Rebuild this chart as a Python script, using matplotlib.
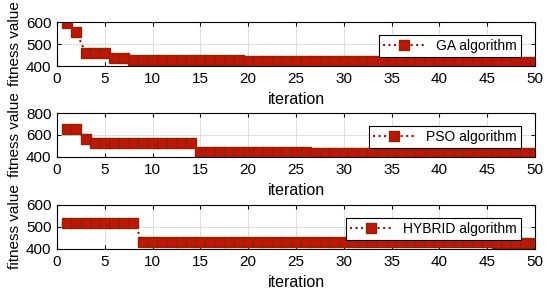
import matplotlib
matplotlib.use("Agg")
import matplotlib.pyplot as plt
import numpy as np

plt.rcParams['font.family'] = ['Liberation Sans', 'DejaVu Sans']

iterations = list(range(1, 51))
ga_values = [595, 555, 460, 460, 460, 436, 436] + [427] * 12 + [424] * 11 + [422] * 15 + [419] * 5
pso_values = [652, 652, 563] + [525] * 11 + [443] * 12 + [440] * 24
hybrid_values = [520] * 8 + [432] * 28 + [430] * 9 + [428] * 5

series = [
    ("GA algorithm", ga_values, (400, 600), [400, 500, 600]),
    ("PSO algorithm", pso_values, (400, 800), [400, 600, 800]),
    ("HYBRID algorithm", hybrid_values, (400, 600), [400, 500, 600]),
]

W, H = 550, 292
fig = plt.figure(figsize=(5.5, 2.92), dpi=100)
tops = [22, 113, 205]
left, right = 57, 535
height = 44

for (label, vals, ylim, yticks), top in zip(series, tops):
    ax = fig.add_axes([left / W, 1 - (top + height) / H, (right - left) / W, height / H])
    ax.plot(iterations, vals, linestyle=':', color='#8B1A00', linewidth=1.5,
            marker='s', markersize=6.5, markerfacecolor='#C0160A',
            markeredgecolor='#8B2500', markeredgewidth=1.0, label=label)
    ax.set_xlim(0, 50)
    ax.set_ylim(*ylim)
    ax.set_xticks(range(0, 51, 5))
    ax.set_yticks(yticks)
    ax.grid(True, color='#DDDDDD', linewidth=0.7)
    ax.tick_params(direction='in', top=True, right=True, labelsize=11, length=3, pad=4)
    ax.set_xlabel('iteration', fontsize=11.5, labelpad=0)
    ax.xaxis.set_label_coords(0.5, -0.6)
    ax.set_ylabel('fitness value', fontsize=11, labelpad=3)
    for sp in ax.spines.values():
        sp.set_linewidth(0.8)
    leg = ax.legend(loc='upper right', fontsize=10, fancybox=False, framealpha=1,
                    edgecolor='black', borderpad=0.3, handlelength=3.0,
                    bbox_to_anchor=(0.985, 0.86))
    leg.get_frame().set_linewidth(0.8)

fig.savefig('out.png', dpi=100)
